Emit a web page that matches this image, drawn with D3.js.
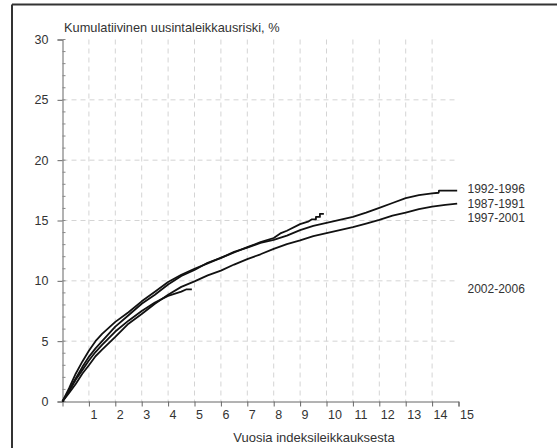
<!DOCTYPE html>
<html>
<head>
<meta charset="utf-8">
<script src="https://cdn.jsdelivr.net/npm/d3@7"></script>
<style>
  body { margin: 0; background: #fff; }
  text { font-family: "Liberation Sans", Arial, sans-serif; fill: #333; }
</style>
</head>
<body>
<div id="chart"></div>
<script>
// series data
var seriesNames = ["1987-1991", "1992-1996", "1997-2001", "2002-2006"];

var t8791 = [0, 0.25, 0.5, 0.75, 1, 1.25, 1.5, 2, 2.5, 3, 3.5, 4, 4.5, 5, 5.5, 6, 6.5, 7, 7.5, 8, 8.5, 9, 9.5, 10, 10.5, 11, 11.5, 12, 12.5, 13, 13.5, 14, 14.5, 14.95];
var v8791 = [0, 0.7, 1.45, 2.3, 3.0, 3.75, 4.3, 5.35, 6.45, 7.25, 8.1, 8.85, 9.5, 9.95, 10.45, 10.85, 11.35, 11.8, 12.2, 12.65, 13.05, 13.35, 13.7, 13.95, 14.2, 14.45, 14.75, 15.05, 15.4, 15.65, 15.95, 16.15, 16.3, 16.4];

var t9296 = [0, 0.25, 0.5, 0.75, 1, 1.25, 1.5, 2, 2.5, 3, 3.5, 4, 4.5, 5, 5.5, 6, 6.5, 7, 7.5, 8, 8.5, 9, 9.5, 10, 10.5, 11, 11.5, 12, 12.5, 13, 13.5, 14, 14.25, 14.26, 14.95];
var v9296 = [0, 0.95, 1.9, 2.85, 3.7, 4.4, 5.0, 6.2, 7.15, 8.1, 8.85, 9.7, 10.4, 10.9, 11.5, 11.9, 12.4, 12.75, 13.15, 13.4, 13.75, 14.2, 14.55, 14.8, 15.05, 15.3, 15.65, 16.05, 16.45, 16.85, 17.1, 17.25, 17.3, 17.47, 17.47];

var t9701 = [0, 0.25, 0.5, 0.75, 1, 1.25, 1.5, 2, 2.5, 3, 3.5, 4, 4.5, 5, 5.5, 6, 6.5, 7, 7.5, 8, 8.25, 8.5, 9, 9.3, 9.45, 9.6, 9.6, 9.75, 9.75, 9.9];
var v9701 = [0, 1.1, 2.3, 3.3, 4.2, 5.0, 5.6, 6.6, 7.4, 8.3, 9.1, 9.9, 10.5, 11.0, 11.45, 11.9, 12.35, 12.8, 13.2, 13.55, 13.93, 14.15, 14.7, 14.9, 15.1, 15.1, 15.3, 15.3, 15.55, 15.55];

var t0206 = [0, 0.25, 0.5, 0.75, 1, 1.25, 1.5, 2, 2.5, 3, 3.5, 4, 4.5, 4.7, 4.9];
var v0206 = [0, 0.85, 1.8, 2.6, 3.4, 4.1, 4.7, 5.8, 6.7, 7.5, 8.2, 8.75, 9.1, 9.3, 9.3];

var xTicks = d3.range(1, 16);
var yTicks = [0, 5, 10, 15, 20, 25, 30];
var yMinor = d3.range(0, 31);

var yTitle = "Kumulatiivinen uusintaleikkausriski, %";
var xTitle = "Vuosia indeksileikkauksesta";

var W = 557, H = 448;
var margin = { top: 39.5, right: 98.5, bottom: 46.5, left: 62.5 };
var width = W - margin.left - margin.right,
    height = H - margin.top - margin.bottom;

var svg = d3.select("#chart").append("svg")
    .attr("width", W)
    .attr("height", H);

// frame (top and left edges)
svg.append("line").attr("x1", 12).attr("x2", W).attr("y1", 4.5).attr("y2", 4.5)
    .attr("stroke", "#333").attr("stroke-width", 2);
svg.append("line").attr("x1", 12).attr("x2", 12).attr("y1", 4.5).attr("y2", H)
    .attr("stroke", "#333").attr("stroke-width", 2);

var g = svg.append("g")
    .attr("transform", "translate(" + margin.left + "," + margin.top + ")");

var x = d3.scaleLinear().domain([0, 15]).range([0, width]);
var y = d3.scaleLinear().domain([0, 30]).range([height, 0]);

// grid
g.append("g").selectAll("line")
    .data(d3.range(1, 15))
    .enter().append("line")
    .attr("x1", d => x(d)).attr("x2", d => x(d))
    .attr("y1", y(30)).attr("y2", y(0))
    .attr("stroke", "#d4d4d4").attr("stroke-dasharray", "5,4");
g.append("g").selectAll("line")
    .data([5, 10, 15, 20, 25])
    .enter().append("line")
    .attr("x1", x(0)).attr("x2", x(15))
    .attr("y1", d => y(d)).attr("y2", d => y(d))
    .attr("stroke", "#d4d4d4").attr("stroke-dasharray", "5,4");

// y axis
var yAxis = g.append("g")
    .call(d3.axisLeft(y).tickValues(yTicks).tickSize(5).tickPadding(9));
yAxis.select(".domain").attr("stroke", "#666");
yAxis.selectAll(".tick line").attr("stroke", "#666");
yAxis.selectAll(".tick text").style("font-size", "12.5px").attr("fill", "#333");
g.append("g").selectAll("line")
    .data(yMinor)
    .enter().append("line")
    .attr("x1", 0).attr("x2", 3)
    .attr("y1", d => y(d)).attr("y2", d => y(d))
    .attr("stroke", "#888");

// x axis
var xAxis = g.append("g")
    .attr("transform", "translate(0," + height + ")")
    .call(d3.axisBottom(x).tickValues(xTicks).tickSize(5).tickPadding(4));
xAxis.select(".domain").attr("stroke", "#666");
xAxis.selectAll(".tick line").attr("stroke", "#666");
xAxis.selectAll(".tick text")
    .style("font-size", "12.5px")
    .attr("text-anchor", "start")
    .attr("x", 1)
    .attr("fill", "#333");

// curves
var allSeries = [
    { name: seriesNames[0], t: t8791, v: v8791, nudge: 0.5 },
    { name: seriesNames[1], t: t9296, v: v9296, nudge: -1.5 },
    { name: seriesNames[2], t: t9701, v: v9701, nudge: 3.8 },
    { name: seriesNames[3], t: t0206, v: v0206, nudge: 0 }
];

var line = d3.line()
    .x(d => x(d[0]))
    .y(d => y(d[1]));

g.append("g").selectAll("path")
    .data(allSeries)
    .enter().append("path")
    .attr("d", s => line(s.t.map((t, i) => [t, s.v[i]])))
    .attr("fill", "none")
    .attr("stroke", "#111")
    .attr("stroke-width", 1.8)
    .attr("stroke-linejoin", "round");

// labels at the end values
g.append("g").selectAll("text")
    .data(allSeries)
    .enter().append("text")
    .attr("x", x(15) + 9)
    .attr("y", s => y(s.v[s.v.length - 1]) + s.nudge)
    .attr("dy", "0.35em")
    .style("font-size", "12px")
    .text(s => s.name);

// titles
svg.append("text")
    .attr("x", 64)
    .attr("y", 32)
    .style("font-size", "12.8px")
    .text(yTitle);

svg.append("text")
    .attr("x", 314)
    .attr("y", 442)
    .attr("text-anchor", "middle")
    .style("font-size", "13px")
    .text(xTitle);
</script>
</body>
</html>
